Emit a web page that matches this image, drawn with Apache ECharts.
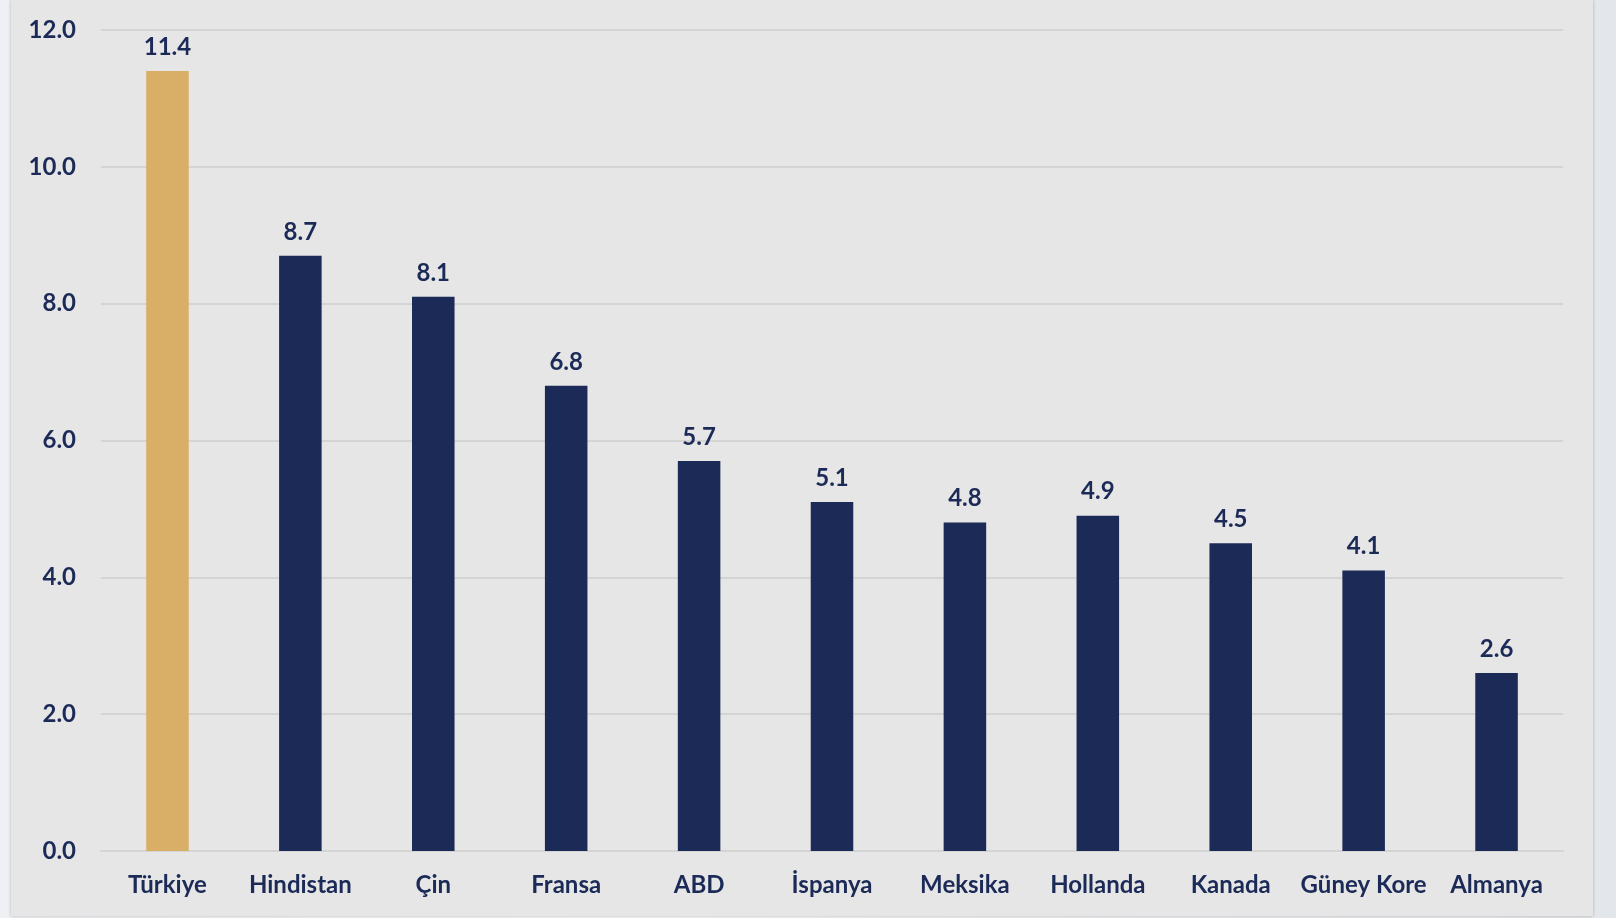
<!DOCTYPE html>
<html>
<head>
<meta charset="utf-8">
<script src="https://cdn.jsdelivr.net/npm/echarts@6/dist/echarts.min.js"></script>
<style>
html,body{margin:0;padding:0;width:1616px;height:918px;overflow:hidden;
background:linear-gradient(90deg,#eef0f3 0%,#f4f5f7 40%,#e3e6ea 100%);}
#panel{position:absolute;left:11px;top:0;width:1582px;height:916px;background:#e6e6e6;
box-shadow:0 0 3px rgba(0,0,0,0.25);}
#chart{position:absolute;left:0;top:0;width:1616px;height:918px;}
</style>
</head>
<body>
<div id="panel"></div>
<div id="chart"></div>
<script>
const categories = ['Türkiye','Hindistan','Çin','Fransa','ABD','İspanya','Meksika','Hollanda','Kanada','Güney Kore','Almanya'];
const values = [11.4, 8.7, 8.1, 6.8, 5.7, 5.1, 4.8, 4.9, 4.5, 4.1, 2.6];
const highlightIndex = 0;
const yTicks = [0, 2, 4, 6, 8, 10, 12];

const navy = '#1b2a57';
const gold = '#d9ae66';
const font = 'Lato, "Open Sans", sans-serif';

const chart = echarts.init(document.getElementById('chart'));
chart.setOption({
  backgroundColor: 'transparent',
  animation: false,
  grid: {left: 101, right: 53, top: 30, bottom: 67, containLabel: false},
  xAxis: {
    type: 'category',
    data: categories,
    axisLine: {show: true, lineStyle: {color: '#d4d4d4', width: 2}},
    axisTick: {show: false},
    axisLabel: {interval: 0, color: navy, fontFamily: font, fontWeight: 'bold', fontSize: 24, margin: 22}
  },
  yAxis: {
    type: 'value',
    min: yTicks[0],
    max: yTicks[yTicks.length - 1],
    interval: 2,
    axisLine: {show: false},
    axisTick: {show: false},
    splitLine: {lineStyle: {color: '#d4d4d4', width: 2}},
    axisLabel: {color: navy, fontFamily: font, fontWeight: 'bold', fontSize: 24, margin: 25,
      formatter: v => v.toFixed(1)}
  },
  series: [{
    type: 'bar',
    barWidth: '32%',
    data: values.map((v, i) => ({value: v, itemStyle: {color: i === highlightIndex ? gold : navy}})),
    label: {show: true, position: 'top', distance: 12, color: navy, fontFamily: font,
      fontWeight: 'bold', fontSize: 24, formatter: p => p.value.toFixed(1)}
  }]
});
</script>
</body>
</html>
